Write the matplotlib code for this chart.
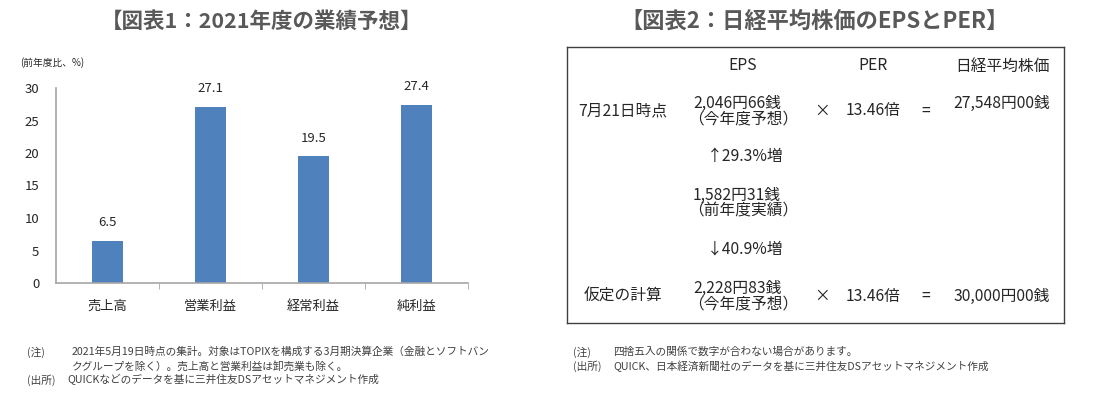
import matplotlib
matplotlib.use("Agg")
import matplotlib.pyplot as plt

plt.rcParams['font.family'] = ['Noto Sans CJK JP', 'DejaVu Sans']

# 図表1 data
categories = ['売上高', '営業利益', '経常利益', '純利益']
growth = [6.5, 27.1, 19.5, 27.4]
yticks = [0, 5, 10, 15, 20, 25, 30]

# 図表2 table contents
headers = ['EPS', 'PER', '日経平均株価']
row_labels = ['7月21日時点', '仮定の計算']
eps_now = ['2,046円66銭', '（今年度予想）']
eps_prev = ['1,582円31銭', '（前年度実績）']
eps_assumed = ['2,228円83銭', '（今年度予想）']
change_up = '↑29.3%増'
change_down = '↓40.9%増'
per = '13.46倍'
nikkei = ['27,548円00銭', '30,000円00銭']

W, H = 1099, 397
fig = plt.figure(figsize=(W / 100, H / 100), dpi=100)


def px(x0, y0, x1, y1):
    """pixel box (top-left origin) -> figure rect"""
    return [x0 / W, 1 - y1 / H, (x1 - x0) / W, (y1 - y0) / H]


title_color = '#595959'
text_color = '#262626'
note_color = '#404040'
note_fs = 7.7

# ---- left: bar chart ----
fig.text(262 / W, 1 - 21 / H, '【図表1：2021年度の業績予想】', ha='center', va='center',
         fontsize=15.5, fontweight='bold', color=title_color)

ax = fig.add_axes(px(56, 88, 468, 283))
xs = range(len(categories))
ax.bar(xs, growth, width=0.31, color='#4F81BD')
for x, v in zip(xs, growth):
    ax.annotate(f'{v:.1f}', (x, v), xytext=(0, 13), textcoords='offset points',
                ha='center', va='center', fontsize=9.5, color=text_color)
ax.set_xlim(-0.5, len(categories) - 0.5)
ax.set_ylim(0, 30)
ax.set_yticks(yticks)
ax.set_xticks(list(xs))
ax.set_xticklabels(categories)
ax.set_xticks([i + 0.5 for i in xs], minor=True)
ax.tick_params(axis='x', which='major', length=0, pad=12, labelsize=9.5, labelcolor=text_color)
ax.tick_params(axis='x', which='minor', length=4, color='#A6A6A6')
ax.tick_params(axis='y', length=0, pad=12, labelsize=9.5, labelcolor=text_color)
for s in ['top', 'right']:
    ax.spines[s].set_visible(False)
for s in ['left', 'bottom']:
    ax.spines[s].set_color('#A6A6A6')
    ax.spines[s].set_linewidth(1.2)
fig.text(20 / W, 1 - 63 / H, '(前年度比、%)', ha='left', va='center', fontsize=7, color=text_color)

fig.text(27 / W, 1 - 352 / H, '(注)', ha='left', va='center', fontsize=note_fs, color=note_color)
fig.text(72 / W, 1 - 352 / H, '2021年5月19日時点の集計。対象はTOPIXを構成する3月期決算企業（金融とソフトバン',
         ha='left', va='center', fontsize=note_fs, color=note_color)
fig.text(72 / W, 1 - 366 / H, 'クグループを除く）。売上高と営業利益は卸売業も除く。',
         ha='left', va='center', fontsize=note_fs, color=note_color)
fig.text(27 / W, 1 - 380 / H, '(出所)', ha='left', va='center', fontsize=note_fs, color=note_color)
fig.text(67 / W, 1 - 380 / H, 'QUICKなどのデータを基に三井住友DSアセットマネジメント作成',
         ha='left', va='center', fontsize=note_fs, color=note_color)

# ---- right: table ----
fig.text(815 / W, 1 - 21 / H, '【図表2：日経平均株価のEPSとPER】', ha='center', va='center',
         fontsize=16, fontweight='bold', color=title_color)

tx = fig.add_axes(px(567, 47, 1064, 323))
tx.set_xlim(567, 1064)
tx.set_ylim(323, 47)
tx.set_xticks([])
tx.set_yticks([])
for s in tx.spines.values():
    s.set_color('#404040')
    s.set_linewidth(1.0)

fs = 11.3
col_x = [743, 873, 1002]
for x, h in zip(col_x, headers):
    tx.text(x, 66, h, ha='center', va='center', fontsize=fs, color=text_color)

row_y = [111, 296]
eps_blocks = [eps_now, eps_assumed]
for y, lab, eps, nk in zip(row_y, row_labels, eps_blocks, nikkei):
    tx.text(623, y, lab, ha='center', va='center', fontsize=fs, color=text_color)
    tx.text(737, y - 8, eps[0], ha='center', va='center', fontsize=fs, color=text_color)
    tx.text(743, y + 8, eps[1], ha='center', va='center', fontsize=fs, color=text_color)
    tx.text(822, y, '×', ha='center', va='center', fontsize=fs, color=text_color)
    tx.text(873, y, per, ha='center', va='center', fontsize=fs, color=text_color)
    tx.text(926, y, '=', ha='center', va='center', fontsize=fs, color=text_color)
    tx.text(1002, y - 8 if y == row_y[0] else y, nk, ha='center', va='center',
            fontsize=fs, color=text_color)

tx.text(745, 157, change_up, ha='center', va='center', fontsize=fs, color=text_color)
tx.text(737, 195, eps_prev[0], ha='center', va='center', fontsize=fs, color=text_color)
tx.text(743, 211, eps_prev[1], ha='center', va='center', fontsize=fs, color=text_color)
tx.text(745, 249, change_down, ha='center', va='center', fontsize=fs, color=text_color)

fig.text(573 / W, 1 - 352 / H, '(注)', ha='left', va='center', fontsize=note_fs, color=note_color)
fig.text(613 / W, 1 - 352 / H, '四捨五入の関係で数字が合わない場合があります。',
         ha='left', va='center', fontsize=note_fs, color=note_color)
fig.text(573 / W, 1 - 366 / H, '(出所)', ha='left', va='center', fontsize=note_fs, color=note_color)
fig.text(613 / W, 1 - 366 / H, 'QUICK、日本経済新聞社のデータを基に三井住友DSアセットマネジメント作成',
         ha='left', va='center', fontsize=note_fs, color=note_color)

fig.savefig('out.png', dpi=100)
